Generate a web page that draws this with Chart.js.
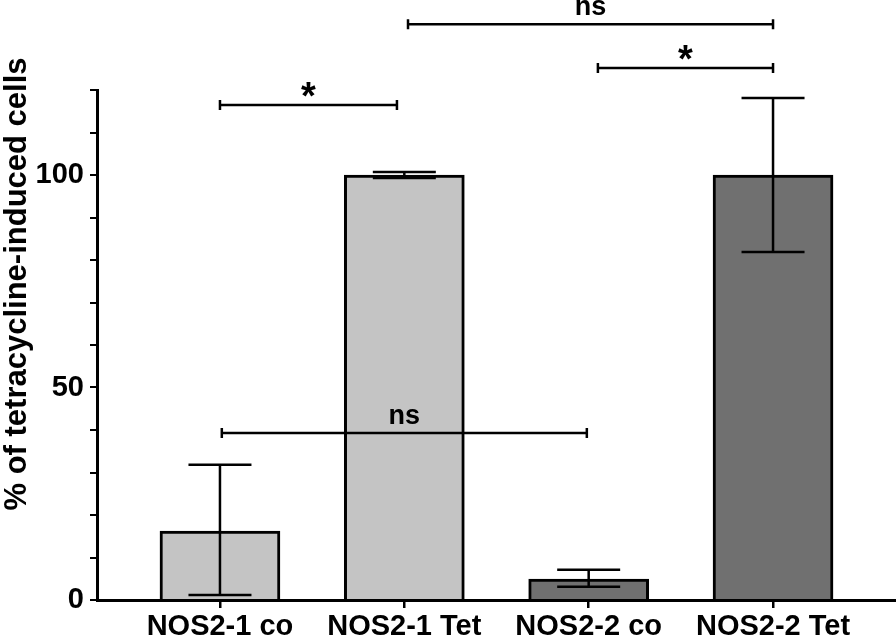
<!DOCTYPE html>
<html>
<head>
<meta charset="utf-8">
<script src="https://cdn.jsdelivr.net/npm/chart.js@4/dist/chart.umd.min.js"></script>
<style>
  html, body { margin: 0; padding: 0; background: #fff; }
  #wrap { width: 896px; height: 639px; position: relative; }
</style>
</head>
<body>
<div id="wrap"><canvas id="barChart"></canvas></div>
<script>
var categories = ["NOS2-1 co", "NOS2-1 Tet", "NOS2-2 co", "NOS2-2 Tet"];
var means = [16.2, 100, 4.9, 100];
var errLow = [1.2, 99.3, 3.1, 81.9];
var errHigh = [31.8, 100.7, 7.1, 118.1];
var barColors = ["#c4c4c4", "#c4c4c4", "#707070", "#707070"];

// significance brackets (x in category units, level in y units)
var bracketFrom = [0, 1.02, 2.05, 0.01];
var bracketTo = [0.96, 3, 3, 1.99];
var bracketLevel = [116.5, 135.5, 125.2, 39.3];
var bracketLabel = ["*", "ns", "*", "ns"];

var yTitle = "% of tetracycline-induced cells";
var FONT = "'Liberation Sans', Arial, Helvetica, sans-serif";

var errorBars = {
    id: "errorBars",
    afterDatasetsDraw: function (chart) {
        var ctx = chart.ctx, x = chart.scales.x, y = chart.scales.y;
        ctx.save();
        ctx.strokeStyle = "#000";
        ctx.lineWidth = 2.5;
        for (var i = 0; i < means.length; i++) {
            var px = x.getPixelForValue(i);
            var top = y.getPixelForValue(errHigh[i]);
            var bot = y.getPixelForValue(errLow[i]);
            ctx.beginPath();
            ctx.moveTo(px, top); ctx.lineTo(px, bot);
            ctx.moveTo(px - 31.5, top); ctx.lineTo(px + 31.5, top);
            ctx.moveTo(px - 31.5, bot); ctx.lineTo(px + 31.5, bot);
            ctx.stroke();
        }
        ctx.restore();
    }
};

var brackets = {
    id: "brackets",
    afterDraw: function (chart) {
        var ctx = chart.ctx, x = chart.scales.x, y = chart.scales.y;
        ctx.save();
        ctx.strokeStyle = "#000";
        ctx.fillStyle = "#000";
        ctx.lineWidth = 2.5;
        ctx.textAlign = "center";
        for (var i = 0; i < bracketLabel.length; i++) {
            var x1 = x.getPixelForValue(bracketFrom[i]);
            var x2 = x.getPixelForValue(bracketTo[i]);
            var py = y.getPixelForValue(bracketLevel[i]);
            ctx.beginPath();
            ctx.moveTo(x1, py); ctx.lineTo(x2, py);
            ctx.moveTo(x1, py - 5); ctx.lineTo(x1, py + 5);
            ctx.moveTo(x2, py - 5); ctx.lineTo(x2, py + 5);
            ctx.stroke();
            if (bracketLabel[i] === "*") {
                ctx.font = "bold 38px " + FONT;
                ctx.textBaseline = "alphabetic";
                ctx.fillText("*", (x1 + x2) / 2, py + 4);
            } else {
                ctx.font = "bold 27px " + FONT;
                ctx.textBaseline = "alphabetic";
                ctx.fillText(bracketLabel[i], (x1 + x2) / 2, py - 9);
            }
        }
        // y axis title
        ctx.translate(17, 284);
        ctx.rotate(-Math.PI / 2);
        ctx.font = "bold 31px " + FONT;
        ctx.textBaseline = "middle";
        ctx.fillText(yTitle, 0, 0);
        ctx.restore();
    }
};

var barData = {
    datasets: [{
        data: means.map(function (v, i) { return { x: i, y: v }; }),
        backgroundColor: barColors,
        borderColor: "#000",
        borderWidth: 3,
        barThickness: 120
    }]
};

var barOptions = {
    responsive: true,
    maintainAspectRatio: false,
    animation: false,
    layout: { padding: { top: 90, right: 0, left: 0, bottom: 0 } },
    plugins: { legend: { display: false }, tooltip: { enabled: false } },
    scales: {
        x: {
            type: "linear",
            offset: false,
            min: -0.667,
            max: 3.667,
            afterBuildTicks: function (axis) {
                axis.ticks = categories.map(function (c, i) { return { value: i }; });
            },
            afterFit: function (axis) { axis.height = 39; },
            border: { color: "#000", width: 3, dash: [2, 2] },
            grid: { offset: false, drawOnChartArea: false, color: "#000", lineWidth: 2.5, tickLength: 8 },
            ticks: {
                color: "#000",
                autoSkip: false,
                maxRotation: 0,
                padding: 2,
                font: { family: FONT, size: 29, weight: "bold" },
                callback: function (v) { return categories[v]; }
            }
        },
        y: {
            min: 0,
            max: 120,
            afterFit: function (axis) { axis.width = 97; },
            border: { color: "#000", width: 3 },
            grid: { drawOnChartArea: false, color: "#000", lineWidth: 2, tickLength: 7 },
            ticks: {
                stepSize: 10,
                color: "#000",
                padding: 6,
                font: { family: FONT, size: 29, weight: "bold" },
                callback: function (v) { return v % 50 === 0 ? v : ""; }
            }
        }
    }
};

var ctx2 = document.getElementById("barChart").getContext("2d");
new Chart(ctx2, { type: "bar", data: barData, options: barOptions, plugins: [errorBars, brackets] });
</script>
</body>
</html>
